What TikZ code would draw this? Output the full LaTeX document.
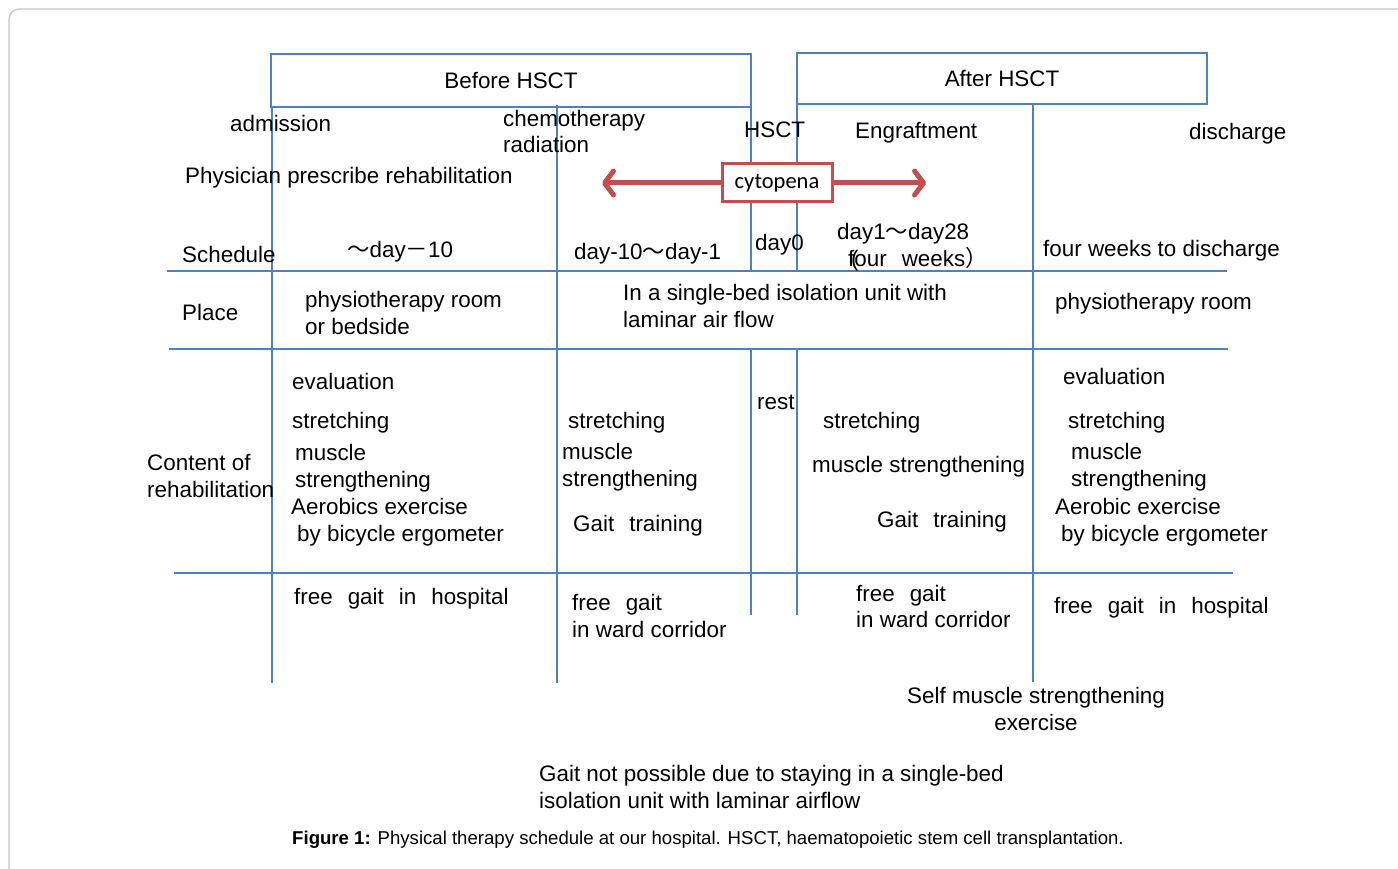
\documentclass[tikz,border=0pt]{standalone}
\usepackage{fontspec}
\setmainfont{Liberation Sans}
\newfontfamily\cjk{Noto Sans CJK JP}
\newfontfamily\calib{Carlito}
\usetikzlibrary{arrows.meta}
\definecolor{lineblue}{RGB}{79,129,189}
\definecolor{arrred}{RGB}{192,80,77}
\definecolor{framegray}{RGB}{195,195,195}
\newcommand\wgap{\hspace{15pt}}
\newcommand\fw[1]{\smash{\cjk #1}}
\begin{document}
\begin{tikzpicture}[x=1pt,y=-1pt,
  txt/.style={font=\fontsize{22.4}{27}\selectfont, inner sep=0pt, anchor=base west},
  tmid/.style={txt, anchor=base},
  grid/.style={draw=lineblue, line width=1.6pt},
  hdr/.style={draw=lineblue, line width=1.6pt, inner sep=0pt, font=\fontsize{22.4}{27}\selectfont},
  arr/.style={draw=arrred, line width=5pt, -{Straight Barb[length=9pt,width=24pt,line cap=round,line join=round]}}]
\useasboundingbox (0,0) rectangle (1398,869);
% outer frame
\draw[framegray, line width=1.2pt, rounded corners=10pt] (9,900) -- (9,9) -- (1420,9);

% header boxes
\node[hdr, minimum width=480pt, minimum height=53pt] (before) at (511,80.5) {Before HSCT};
\node[hdr, minimum width=410pt, minimum height=51pt] (after) at (1002,78.5) {After HSCT};

% grid lines
\draw[grid] (272,107) -- (272,683);
\draw[grid] (557,105) -- (557,683);
\draw[grid] (751,107) -- (751,271);
\draw[grid] (751,349) -- (751,615);
\draw[grid] (797,104) -- (797,271);
\draw[grid] (797,349) -- (797,615);
\draw[grid] (1033,104) -- (1033,682);
\draw[grid] (167,271) -- (1227,271);
\draw[grid] (169,349) -- (1228,349);
\draw[grid] (174,573) -- (1233,573);

% top events
\node[txt] (adm) at (230,132) {admission};
\node[txt] (chemo) at (503,127) {chemotherapy};
\node[txt] (rad) at (503,153) {radiation};
\node[txt] (hsct) at (744,138) {HSCT};
\node[txt] (engr) at (855,139) {Engraftment};
\node[txt] (disch) at (1189,140) {discharge};
\node[txt] (phys) at (185,184) {Physician prescribe rehabilitation};

% cytopena
\node[draw=arrred, line width=3pt, fill=white, inner sep=0pt,
      font=\calib\fontsize{22.5}{26}\selectfont,
      minimum width=110pt, minimum height=38pt] (cyto) at (777,183) {cytopena};
\coordinate (la) at (602,183);
\coordinate (ra) at (926,183);
\draw[arr] (cyto.west) -- (la);
\draw[arr] (cyto.east) -- (ra);

% schedule row
\node[txt] (sched) at (182,262) {Schedule};
\node[txt] (s1) at (347,258) {\fw{～}day\fw{－}10};
\node[txt] (s2) at (574,259) {day-10\fw{～}day-1};
\node[txt] (s3) at (755,251) {day0};
\node[txt] (s4a) at (837,240) {day1\fw{～}day28};
\node[txt] (s4b) at (848,267) {\rlap{\kern3pt(}four\wgap weeks\fw{）}};
\node[txt] (s5) at (1043,257) {four weeks to discharge};

% place row
\node[txt] (place) at (182,320) {Place};
\node[txt] (p1a) at (305,307) {physiotherapy room};
\node[txt] (p1b) at (305,334) {or bedside};
\node[txt] (p2a) at (623,300) {In a single-bed isolation unit with};
\node[txt] (p2b) at (623,327) {laminar air flow};
\node[txt] (p3) at (1055,309) {physiotherapy room};

% content row
\node[txt] (cont1) at (147,470) {Content of};
\node[txt] (cont2) at (147,497) {rehabilitation};
\node[txt] (c1a) at (292,389) {evaluation};
\node[txt] (c1b) at (292,428) {stretching};
\node[txt] (c1c) at (295,460) {muscle};
\node[txt] (c1d) at (295,487) {strengthening};
\node[txt] (c1e) at (291,514) {Aerobics exercise};
\node[txt] (c1f) at (297,541) {by bicycle ergometer};
\node[txt] (c2a) at (568,428) {stretching};
\node[txt] (c2b) at (562,459) {muscle};
\node[txt] (c2c) at (562,486) {strengthening};
\node[txt] (c2d) at (573,531) {Gait\wgap training};
\node[txt] (rest) at (757,409) {rest};
\node[txt] (c3a) at (823,428) {stretching};
\node[txt] (c3b) at (812,472) {muscle strengthening};
\node[txt] (c3c) at (877,527) {Gait\wgap training};
\node[txt] (c4a) at (1063,384) {evaluation};
\node[txt] (c4b) at (1068,428) {stretching};
\node[txt] (c4c) at (1071,459) {muscle};
\node[txt] (c4d) at (1071,486) {strengthening};
\node[txt] (c4e) at (1055,514) {Aerobic exercise};
\node[txt] (c4f) at (1061,541) {by bicycle ergometer};

% gait row
\node[txt] (g1) at (294,604) {free\wgap gait\wgap in\wgap hospital};
\node[txt] (g2a) at (572,610) {free\wgap gait};
\node[txt] (g2b) at (572,637) {in ward corridor};
\node[txt] (g3a) at (856,601) {free\wgap gait};
\node[txt] (g3b) at (856,627) {in ward corridor};
\node[txt] (g4) at (1054,613) {free\wgap gait\wgap in\wgap hospital};

% notes
\node[txt] (self1) at (907,703) {Self muscle strengthening};
\node[tmid] (self2) at (1036,730) {exercise};
\node[txt] (note1) at (539,781) {Gait not possible due to staying in a single-bed};
\node[txt] (note2) at (539,808) {isolation unit with laminar airflow};

% caption
\node[font=\fontsize{18.6}{22}\selectfont, inner sep=0pt, anchor=base] (cap) at (708,844)
  {\textbf{Figure 1:} Physical therapy schedule at our hospital. HSCT, haematopoietic stem cell transplantation.};
\end{tikzpicture}
\end{document}
